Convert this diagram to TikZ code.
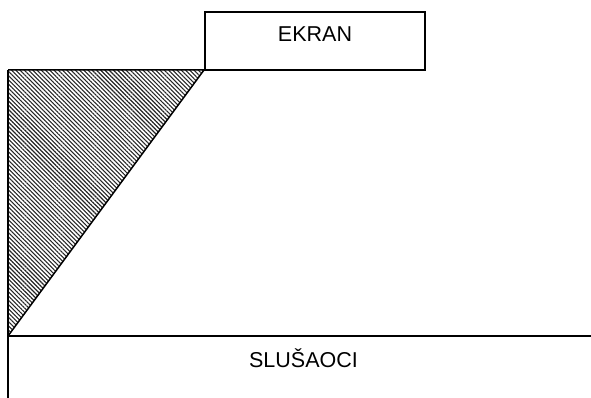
\documentclass[tikz,border=0pt]{standalone}
\usepackage{fontspec}
\setmainfont{Liberation Sans}
\usetikzlibrary{patterns.meta}
\begin{document}
\begin{tikzpicture}[x=1pt,y=-1pt,
  line/.style={draw=black,line width=1.5pt},
  lbl/.style={font=\fontsize{21.5}{24}\selectfont,inner sep=0pt}]
\useasboundingbox (0,0) rectangle (591,398);
\coordinate (tl) at (8,70);
\coordinate (tr) at (204,70);
\coordinate (bl) at (8,336);
\coordinate (br) at (591,336);
\coordinate (vb) at (8,398);
\fill[pattern={Lines[angle=-45,distance=3pt,line width=1.1pt]},pattern color=black!85] (tl) -- (tr) -- (bl) -- cycle;
\draw[line] (tl) -- (tr) -- (bl);
\draw[line] (tl) -- (vb);
\draw[line] (bl) -- (br);
\draw[line] (205,12) rectangle (425,70);
\node[lbl] (ekran) at (315,34) {EKRAN};
\node[lbl] (slus) at (303.5,358) {SLUŠAOCI};
\end{tikzpicture}
\end{document}
